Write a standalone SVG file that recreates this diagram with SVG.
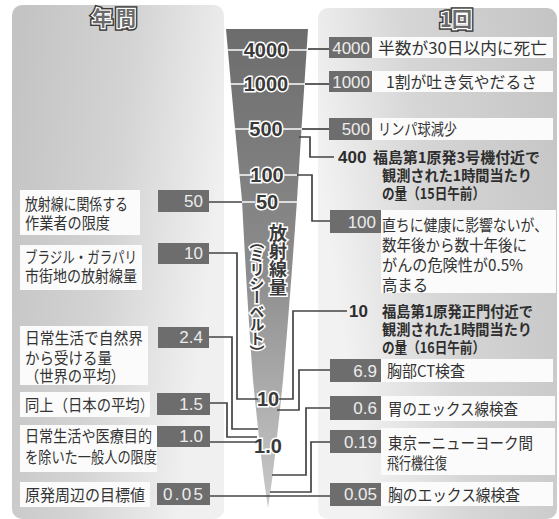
<svg xmlns="http://www.w3.org/2000/svg" width="559" height="519" viewBox="0 0 559 519">
<defs>
<linearGradient id="gl" x1="0" y1="0" x2="1" y2="0.3">
<stop offset="0" stop-color="#c2c2c2"/>
<stop offset="0.55" stop-color="#d4d4d4"/>
<stop offset="1" stop-color="#f0f0f0"/>
</linearGradient>
<linearGradient id="gr" x1="1" y1="0" x2="0" y2="0.3">
<stop offset="0" stop-color="#c4c4c4"/>
<stop offset="0.6" stop-color="#d6d6d6"/>
<stop offset="1" stop-color="#f2f2f2"/>
</linearGradient>
<linearGradient id="gw" x1="0" y1="0" x2="0" y2="1">
<stop offset="0" stop-color="#6c6c6c"/>
<stop offset="0.5" stop-color="#8c8c8c"/>
<stop offset="1" stop-color="#cacaca"/>
</linearGradient>
</defs>
<style>
.dbox{fill:#6d6d6d}
.wbox{fill:#fbfbfb}
.num{font-family:"Liberation Sans",Arial,sans-serif;font-size:17px;fill:#ececec;text-anchor:end}
.txt{font-family:"Noto Sans CJK JP","Noto Sans",sans-serif;font-size:16px;fill:#333}
.btxt{font-family:"Noto Sans CJK JP","Noto Sans",sans-serif;font-size:15px;font-weight:bold;fill:#2e2e2e}
.bnum{font-family:"Liberation Sans",Arial,sans-serif;font-size:17px;font-weight:bold;fill:#2e2e2e}
.wl{font-family:"Liberation Sans",Arial,sans-serif;font-size:20px;font-weight:bold;fill:#3a3a3a;stroke:#ffffff;stroke-width:3;paint-order:stroke;text-anchor:middle}
.vt{font-family:"Noto Sans CJK JP",sans-serif;font-weight:bold;fill:#3a3a3a;stroke:#ffffff;stroke-width:3;paint-order:stroke;writing-mode:vertical-rl}
.ttl{font-family:"Noto Sans CJK JP",sans-serif;font-weight:bold;font-size:20px;fill:#6a6a6a;stroke:#ffffff;stroke-width:2.5;paint-order:stroke;text-anchor:middle}
.ttlo{font-family:"Noto Sans CJK JP",sans-serif;font-weight:bold;font-size:20px;fill:none;stroke:#3a3a3a;stroke-width:5.5;text-anchor:middle}
.tick{stroke:#f4f4f4;stroke-width:1.6;fill:none}
.con{stroke:#444;stroke-width:1.7;fill:none}
</style>

<g id="panels">
<rect x="12" y="5" width="212" height="514" rx="10" fill="url(#gl)"/>
<rect x="318" y="8" width="239" height="511" rx="10" fill="url(#gr)"/>
</g>

<g id="titles">
<text class="ttlo" x="114" y="26" textLength="44">年間</text>
<text class="ttl" x="114" y="26" textLength="44">年間</text>
<text class="ttlo" x="456" y="27">1回</text>
<text class="ttl" x="456" y="27">1回</text>
</g>

<g id="wedge">
<path d="M226,29 L308,29 Q302,120 297,200 Q290,300 283,380 Q277,440 272,480 L268,508 L264,480 Q259,440 253,380 Q247,300 242,200 Q234,120 226,29 Z" fill="url(#gw)"/>
<line class="tick" x1="227" y1="50" x2="244" y2="50"/>
<line class="tick" x1="288" y1="50" x2="308" y2="50"/>
<line class="tick" x1="230" y1="84" x2="245" y2="84"/>
<line class="tick" x1="288" y1="84" x2="305" y2="84"/>
<line class="tick" x1="234" y1="129" x2="250" y2="129"/>
<line class="tick" x1="283" y1="129" x2="302" y2="129"/>
<line class="tick" x1="238" y1="175" x2="252" y2="175"/>
<line class="tick" x1="283" y1="175" x2="297" y2="175"/>
<line class="tick" x1="242" y1="202" x2="255" y2="202"/>
<line class="tick" x1="279" y1="202" x2="297" y2="202"/>
<text class="wl" x="266" y="57">4000</text>
<text class="wl" x="266" y="91">1000</text>
<text class="wl" x="266" y="136">500</text>
<text class="wl" x="267" y="182">100</text>
<text class="wl" x="267" y="209">50</text>
<text class="wl" x="268" y="406">10</text>
<text class="wl" x="268" y="453">1.0</text>
<text class="vt" x="278" y="224" font-size="18">放射線量</text>
<text class="vt" x="257" y="234" font-size="15" textLength="126" lengthAdjust="spacing">（ミリシーベルト）</text>
</g>

<g id="connectors">
<line class="con" x1="308" y1="49" x2="329" y2="49"/>
<line class="con" x1="305" y1="84" x2="329" y2="84"/>
<line class="con" x1="302" y1="129" x2="329" y2="129"/>
<polyline class="con" points="299,137 310,137 310,157 334,157"/>
<polyline class="con" points="297,175 312,175 312,221 330,221"/>
<line class="con" x1="209" y1="202" x2="242" y2="202"/>
<polyline class="con" points="209,253 237,253 237,399 258,399"/>
<polyline class="con" points="279,399 293,399 293,311 347,311"/>
<polyline class="con" points="209,337 232,337 232,429 258,429"/>
<polyline class="con" points="210,403 227,403 227,437 257,437"/>
<line class="con" x1="210" y1="442" x2="256" y2="442"/>
<polyline class="con" points="330,370 299,370 299,410 277,410"/>
<polyline class="con" points="330,408 306,408 306,475 272,475"/>
<polyline class="con" points="330,442 311,442 311,492 270,492"/>
<line class="con" x1="210" y1="496" x2="330" y2="496"/>
</g>

<g id="n-y50">
<rect class="wbox" x="20" y="190" width="120" height="45"/>
<rect class="dbox" x="158" y="190" width="51" height="22"/>
<text class="num" x="203" y="207">50</text>
<text class="txt" x="25" y="210" textLength="103" lengthAdjust="spacingAndGlyphs">放射線に関係する</text>
<text class="txt" x="25" y="229" textLength="85" lengthAdjust="spacingAndGlyphs">作業者の限度</text>
</g>
<g id="n-y10">
<rect class="wbox" x="20" y="245" width="122" height="45"/>
<rect class="dbox" x="158" y="243" width="51" height="21"/>
<text class="num" x="203" y="259">10</text>
<text class="txt" x="25" y="263" textLength="112" lengthAdjust="spacingAndGlyphs">ブラジル・ガラパリ</text>
<text class="txt" x="25" y="282" textLength="112" lengthAdjust="spacingAndGlyphs">市街地の放射線量</text>
</g>
<g id="n-y2_4">
<rect class="wbox" x="20" y="326" width="128" height="59"/>
<rect class="dbox" x="158" y="327" width="51" height="21"/>
<text class="num" x="203" y="343">2.4</text>
<text class="txt" x="25" y="344" textLength="118" lengthAdjust="spacingAndGlyphs">日常生活で自然界</text>
<text class="txt" x="25" y="364" textLength="87" lengthAdjust="spacingAndGlyphs">から受ける量</text>
<text class="txt" x="25" y="382" textLength="100" lengthAdjust="spacingAndGlyphs">（世界の平均）</text>
</g>
<g id="n-y1_5">
<rect class="wbox" x="20" y="392" width="130" height="25"/>
<rect class="dbox" x="157" y="393" width="53" height="22"/>
<text class="num" x="203" y="410">1.5</text>
<text class="txt" x="25" y="411" textLength="129" lengthAdjust="spacingAndGlyphs">同上（日本の平均）</text>
</g>
<g id="n-y1_0">
<rect class="wbox" x="20" y="425" width="137" height="47"/>
<rect class="dbox" x="157" y="426" width="53" height="21"/>
<text class="num" x="203" y="442">1.0</text>
<text class="txt" x="25" y="442" textLength="127" lengthAdjust="spacingAndGlyphs">日常生活や医療目的</text>
<text class="txt" x="25" y="463" textLength="132" lengthAdjust="spacingAndGlyphs">を除いた一般人の限度</text>
</g>
<g id="n-y0_05">
<rect class="wbox" x="20" y="482" width="130" height="25"/>
<rect class="dbox" x="157" y="483" width="53" height="22"/>
<text class="num" x="203" y="500" textLength="40">0.05</text>
<text class="txt" x="25" y="501" textLength="120" lengthAdjust="spacingAndGlyphs">原発周辺の目標値</text>
</g>

<g id="n-o4000">
<rect class="dbox" x="329" y="37" width="43" height="21"/>
<rect class="wbox" x="372" y="37" width="181" height="21"/>
<text class="num" x="370" y="54">4000</text>
<text class="txt" x="378" y="54" textLength="169" lengthAdjust="spacingAndGlyphs">半数が30日以内に死亡</text>
</g>
<g id="n-o1000">
<rect class="dbox" x="329" y="71" width="43" height="21"/>
<rect class="wbox" x="372" y="71" width="181" height="21"/>
<text class="num" x="370" y="88">1000</text>
<text class="txt" x="386" y="88" textLength="151" lengthAdjust="spacingAndGlyphs">1割が吐き気やだるさ</text>
</g>
<g id="n-o500">
<rect class="dbox" x="329" y="118" width="43" height="22"/>
<rect class="wbox" x="372" y="118" width="181" height="22"/>
<text class="num" x="370" y="135">500</text>
<text class="txt" x="378" y="135" textLength="79" lengthAdjust="spacingAndGlyphs">リンパ球減少</text>
</g>
<g id="n-o400">
<text class="bnum" x="338" y="163">400</text>
<text class="btxt" x="373" y="163" textLength="167" lengthAdjust="spacingAndGlyphs">福島第1原発3号機付近で</text>
<text class="btxt" x="382" y="181" textLength="150" lengthAdjust="spacingAndGlyphs">観測された1時間当たり</text>
<text class="btxt" x="382" y="199" textLength="103" lengthAdjust="spacingAndGlyphs">の量（15日午前）</text>
</g>
<g id="n-o100">
<rect class="dbox" x="330" y="210" width="51" height="23"/>
<rect class="wbox" x="381" y="210" width="175" height="83"/>
<text class="num" x="376" y="228">100</text>
<text class="txt" x="382" y="231" textLength="166" lengthAdjust="spacingAndGlyphs">直ちに健康に影響ないが、</text>
<text class="txt" x="382" y="251" textLength="145" lengthAdjust="spacingAndGlyphs">数年後から数十年後に</text>
<text class="txt" x="382" y="271" textLength="141" lengthAdjust="spacingAndGlyphs">がんの危険性が0.5%</text>
<text class="txt" x="382" y="291" textLength="46" lengthAdjust="spacingAndGlyphs">高まる</text>
</g>
<g id="n-o10">
<text class="bnum" x="349" y="317">10</text>
<text class="btxt" x="382" y="317" textLength="151" lengthAdjust="spacingAndGlyphs">福島第1原発正門付近で</text>
<text class="btxt" x="382" y="335" textLength="150" lengthAdjust="spacingAndGlyphs">観測された1時間当たり</text>
<text class="btxt" x="382" y="353" textLength="103" lengthAdjust="spacingAndGlyphs">の量（16日午前）</text>
</g>
<g id="n-o6_9">
<rect class="dbox" x="330" y="359" width="51" height="23"/>
<rect class="wbox" x="381" y="359" width="172" height="23"/>
<text class="num" x="377" y="377">6.9</text>
<text class="txt" x="387" y="377" textLength="78" lengthAdjust="spacingAndGlyphs">胸部CT検査</text>
</g>
<g id="n-o0_6">
<rect class="dbox" x="330" y="396" width="51" height="24"/>
<rect class="wbox" x="381" y="396" width="174" height="25"/>
<text class="num" x="377" y="414">0.6</text>
<text class="txt" x="388" y="415" textLength="130" lengthAdjust="spacingAndGlyphs">胃のエックス線検査</text>
</g>
<g id="n-o0_19">
<rect class="dbox" x="330" y="430" width="51" height="23"/>
<rect class="wbox" x="381" y="428" width="174" height="47"/>
<text class="num" x="377" y="448">0.19</text>
<text class="txt" x="388" y="449" textLength="145" lengthAdjust="spacingAndGlyphs">東京ーニューヨーク間</text>
<text class="txt" x="387" y="469" textLength="60" lengthAdjust="spacingAndGlyphs">飛行機往復</text>
</g>
<g id="n-o0_05">
<rect class="dbox" x="330" y="483" width="51" height="23"/>
<rect class="wbox" x="381" y="482" width="172" height="24"/>
<text class="num" x="377" y="500">0.05</text>
<text class="txt" x="388" y="501" textLength="132" lengthAdjust="spacingAndGlyphs">胸のエックス線検査</text>
</g>
</svg>
